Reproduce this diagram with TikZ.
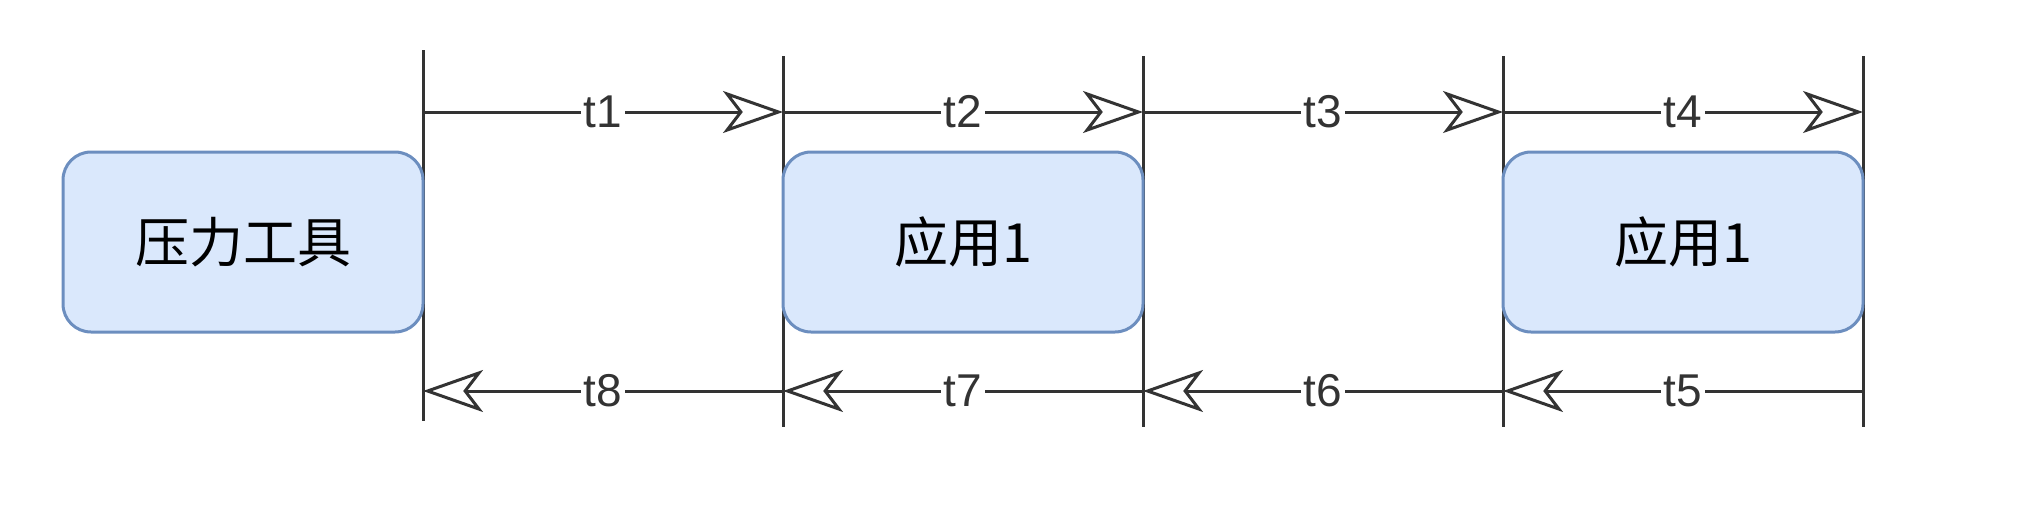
\documentclass[tikz,border=0pt]{standalone}
\usepackage{fontspec}
\setmainfont{Liberation Sans}
\newfontfamily\cjk{Noto Sans CJK SC}
\usetikzlibrary{arrows.meta}
\definecolor{boxfill}{HTML}{DAE8FC}
\definecolor{boxline}{HTML}{6C8EBF}
\definecolor{darkline}{HTML}{333333}
\tikzset{
    proc/.style={rectangle, rounded corners=14pt, draw=boxline, fill=boxfill, line width=1.5pt,
        minimum width=180pt, minimum height=90pt, font=\cjk\fontsize{27}{32}\selectfont},
    tick/.style={draw=darkline, line width=1.5pt},
    timing/.style={draw=darkline, line width=1.5pt, -{Stealth[open, length=30pt, width=21pt, inset=8pt]}},
    tlabel/.style={fill=white, inner sep=1.5pt, text=darkline, font=\fontsize{23}{28}\selectfont}
}
\begin{document}
\begin{tikzpicture}[x=0.5pt, y=-0.5pt]
    \useasboundingbox (0,0) rectangle (2044,514);
    % Ticks
    \foreach \i/\x in {1/423,2/783,3/1143,4/1503,5/1863} {
        \ifnum \i=1
            \coordinate (TickTop-\i) at (\x,50);
            \coordinate (TickBot-\i) at (\x,421);
        \else
            \coordinate (TickTop-\i) at (\x,56);
            \coordinate (TickBot-\i) at (\x,427);
        \fi
        \coordinate (Up-\i) at (\x,112);
        \coordinate (Down-\i) at (\x,391);
        \draw[tick] (TickTop-\i) -- (TickBot-\i);
    }
    % Boxes
    \node[proc] (Tool) at (243,242) {压力工具};
    \node[proc] (App-1) at (963,242) {应用1};
    \node[proc] (App-2) at (1683,242) {应用1};
    % Requests
    \foreach \i/\j in {1/2,2/3,3/4,4/5} {
        \draw[timing] (Up-\i) -- node[tlabel] {t\i} (Up-\j);
    }
    % Responses
    \foreach \i/\j/\n in {5/4/5,4/3/6,3/2/7,2/1/8} {
        \draw[timing] (Down-\i) -- node[tlabel] {t\n} (Down-\j);
    }
\end{tikzpicture}
\end{document}
